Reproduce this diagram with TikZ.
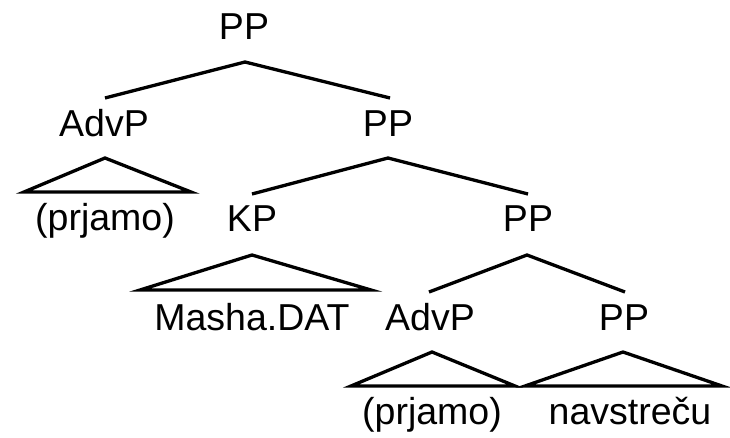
\documentclass[tikz,border=0pt]{standalone}
\usepackage{fontspec}
\setmainfont{Liberation Sans}
\begin{document}
\begin{tikzpicture}[x=1pt,y=-1pt,
  lbl/.style={anchor=base,inner sep=0pt,font=\fontsize{37.5}{42}\selectfont},
  edge/.style={line width=3.3pt,line cap=butt},
  tri/.style={line width=3.3pt,line join=miter}]
\useasboundingbox (0,0) rectangle (730,438);
% labels
\node[lbl] (pp1) at (244,40) {PP};
\node[lbl] (advp1) at (104,137) {AdvP};
\node[lbl] (pp2) at (388,137) {PP};
\node[lbl] (prj1) at (105,230) {(prjamo)};
\node[lbl] (kp) at (252,232) {KP};
\node[lbl] (pp3) at (528,232) {PP};
\node[lbl] (masha) at (252,330) {Masha.DAT};
\node[lbl] (advp2) at (430,330) {AdvP};
\node[lbl] (pp4) at (624,330) {PP};
\node[lbl] (prj2) at (432,424) {(prjamo)};
\node[lbl] (navs) at (630,424) {navstreču};
% attachment points
\coordinate (pp1b) at (245,62);
\coordinate (advp1t) at (105,98);
\coordinate (pp2t) at (390,98);
\coordinate (pp2b) at (388,158);
\coordinate (kpt) at (252,194);
\coordinate (pp3t) at (528,194);
\coordinate (pp3b) at (527,255);
\coordinate (advp2t) at (429,292);
\coordinate (pp4t) at (625,292);
% branches
\draw[edge] (advp1t) -- (pp1b) -- (pp2t);
\draw[edge] (kpt) -- (pp2b) -- (pp3t);
\draw[edge] (advp2t) -- (pp3b) -- (pp4t);
% triangles
\draw[tri] (105,158) -- (24,192) -- (191,192) -- cycle;
\draw[tri] (252,255) -- (140,290) -- (371,290) -- cycle;
\draw[tri] (432,352) -- (351,386) -- (515,386) -- cycle;
\draw[tri] (623,352) -- (525,386) -- (722,386) -- cycle;
\end{tikzpicture}
\end{document}
